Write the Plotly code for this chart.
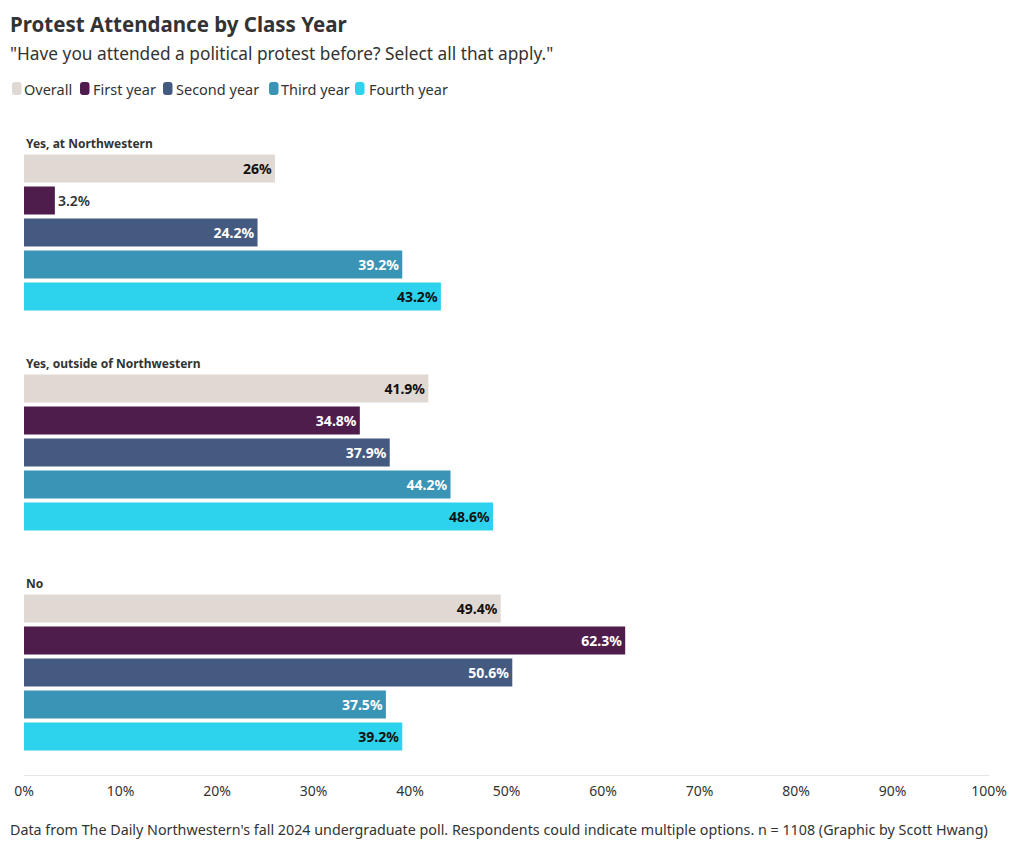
import plotly.graph_objects as go

# ---- data ----
groups = ["Yes, at Northwestern", "Yes, outside of Northwestern", "No"]
series = ["Overall", "First year", "Second year", "Third year", "Fourth year"]
overall = [26, 41.9, 49.4]
first_year = [3.2, 34.8, 62.3]
second_year = [24.2, 37.9, 50.6]
third_year = [39.2, 44.2, 37.5]
fourth_year = [43.2, 48.6, 39.2]
x_ticks = [0, 10, 20, 30, 40, 50, 60, 70, 80, 90, 100]

values = [overall, first_year, second_year, third_year, fourth_year]
colors = ["#e0d8d2", "#4e1d4c", "#445a80", "#3a94b5", "#2dd3ec"]
label_colors = ["#111111", "#ffffff", "#ffffff", "#ffffff", "#111111"]

FONT = "Noto Sans"
GROUP_STEP = 6.875  # rows between group starts

W, H = 1020, 848
L, R, T, B = 24, 31, 130, 73
pw, ph = W - L - R, H - T - B


def px(xr):
    return (xr - L) / pw


def py(yr):
    return 1 - (yr - T) / ph


fig = go.Figure()
for i, (name, vals) in enumerate(zip(series, values)):
    ys = [g * GROUP_STEP + i for g in range(len(groups))]
    texts = [f"{v:g}%" for v in vals]
    positions = ["outside" if v < 8 else "inside" for v in vals]
    tcolors = ["#333333" if v < 8 else label_colors[i] for v in vals]
    fig.add_trace(go.Bar(
        x=vals, y=ys, orientation="h", name=name,
        marker=dict(color=colors[i], line=dict(width=0)),
        width=0.875,
        text=texts, textposition=positions,
        insidetextanchor="end",
        textfont=dict(family=FONT, size=14, color=tcolors, weight="bold"),
        outsidetextfont=dict(family=FONT, size=14, color="#333333", weight=600),
        constraintext="none",
        cliponaxis=False,
        showlegend=False,
        hovertemplate="%{x}%<extra>" + name + "</extra>",
    ))

annotations = []
for g, label in enumerate(groups):
    annotations.append(dict(
        x=0, y=g * GROUP_STEP - 0.77, xref="x", yref="y",
        text=f"<b>{label}</b>", showarrow=False, xanchor="left", yanchor="middle",
        font=dict(family=FONT, size=12, color="#333333"),
    ))

annotations += [
    dict(x=px(8), y=py(24), xref="paper", yref="paper", text="<b>Protest Attendance by Class Year</b>",
         showarrow=False, xanchor="left", yanchor="middle",
         font=dict(family=FONT, size=20.5, color="#333333")),
    dict(x=px(8), y=py(53), xref="paper", yref="paper",
         text="\"Have you attended a political protest before? Select all that apply.\"",
         showarrow=False, xanchor="left", yanchor="middle",
         font=dict(family=FONT, size=17.3, color="#333333")),
    dict(x=px(8), y=py(829), xref="paper", yref="paper",
         text="Data from The Daily Northwestern's fall 2024 undergraduate poll. Respondents could indicate multiple options. n = 1108 (Graphic by Scott Hwang)",
         showarrow=False, xanchor="left", yanchor="middle",
         font=dict(family=FONT, size=14.3, color="#333333")),
]

# custom compact legend (symbol start x, text start x in reference pixels)
legend_pos = [(12, 22), (80, 91), (163, 174), (269, 279), (355, 367)]
shapes = []


def rounded_rect(x0, y0, x1, y1, r):
    # path in pixel units converted to paper coords
    pts = []
    def P(x, y):
        return f"{px(x)},{py(y)}"
    return (f"M {P(x0 + r, y0)} L {P(x1 - r, y0)} Q {P(x1, y0)} {P(x1, y0 + r)} "
            f"L {P(x1, y1 - r)} Q {P(x1, y1)} {P(x1 - r, y1)} L {P(x0 + r, y1)} "
            f"Q {P(x0, y1)} {P(x0, y1 - r)} L {P(x0, y0 + r)} Q {P(x0, y0)} {P(x0 + r, y0)} Z")


for (sx, tx), name, col in zip(legend_pos, series, colors):
    shapes.append(dict(type="path", xref="paper", yref="paper",
                       path=rounded_rect(sx, 82, sx + 9.5, 95, 3),
                       fillcolor=col, line=dict(width=0)))
    annotations.append(dict(x=px(tx), y=py(88.5), xref="paper", yref="paper",
                            text=name, showarrow=False, xanchor="left", yanchor="middle",
                            font=dict(family=FONT, size=14.5, color="#333333")))

first_center = 168.5
y_top = (T - first_center) / 32
y_bot = (H - B - first_center) / 32

fig.update_layout(
    width=W, height=H,
    margin=dict(l=L, r=R, t=T, b=B, autoexpand=False),
    paper_bgcolor="white", plot_bgcolor="white",
    barmode="overlay",
    font=dict(family=FONT, color="#333333"),
    showlegend=False,
    annotations=annotations,
    shapes=shapes,
    xaxis=dict(range=[0, 100], tickvals=x_ticks, ticktext=[f"{t}%" for t in x_ticks],
               showgrid=False, zeroline=False, showline=True, linecolor="#e6e6e6",
               linewidth=1, ticks="", ticklabelstandoff=3,
               tickfont=dict(family=FONT, size=14, color="#333333"),
               automargin=False, fixedrange=True),
    yaxis=dict(range=[y_bot, y_top], showticklabels=False, showgrid=False,
               zeroline=False, showline=False, automargin=False, fixedrange=True),
)

fig.write_html("out.html", config={"displayModeBar": False},
               post_script="document.body.style.margin='0';document.body.style.overflow='hidden';")
